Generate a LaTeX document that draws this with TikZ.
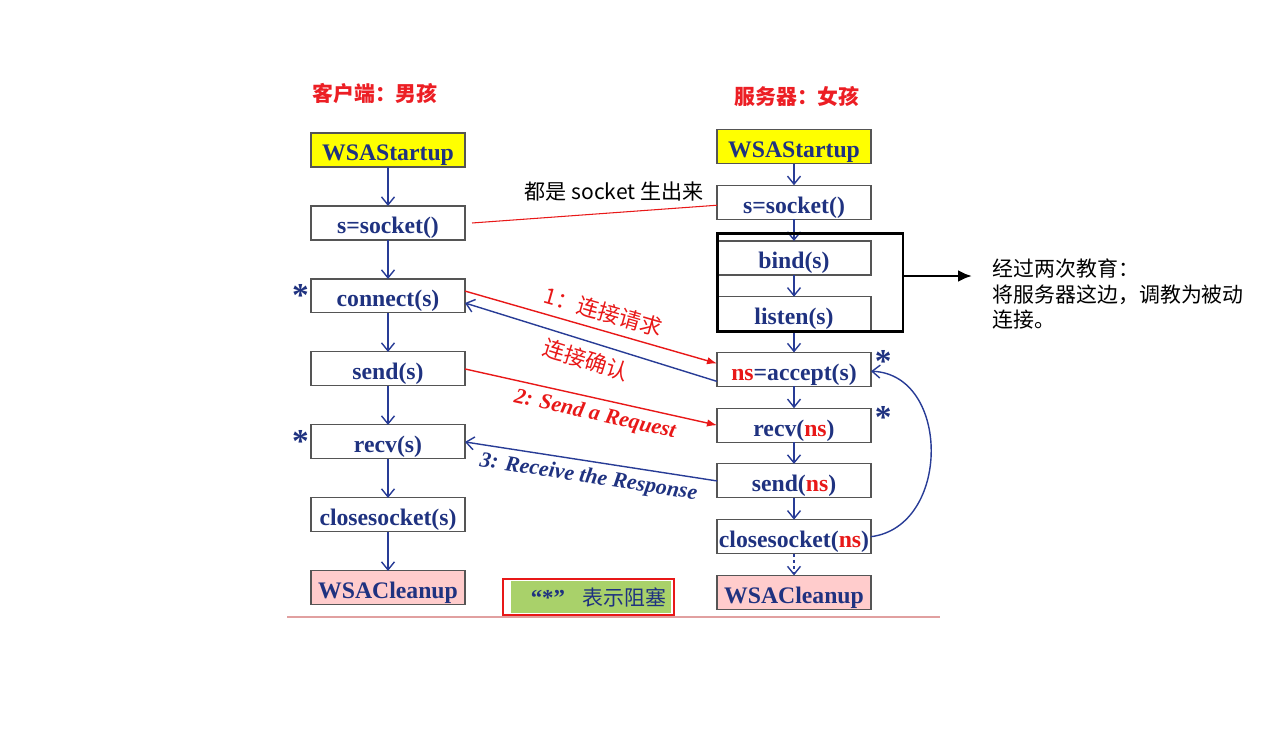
\documentclass[tikz,border=0pt]{standalone}
\usepackage{fontspec}
\setmainfont{Liberation Serif}
\newfontfamily\cjk{Noto Sans CJK SC}
\usetikzlibrary{arrows.meta,positioning,fit}

\definecolor{callblue}{RGB}{31,50,128}
\definecolor{flowblue}{RGB}{40,60,150}
\definecolor{reqred}{RGB}{232,24,24}
\definecolor{headred}{RGB}{236,30,36}
\definecolor{boxline}{RGB}{85,85,85}
\definecolor{startyellow}{RGB}{255,255,0}
\definecolor{cleanpink}{RGB}{255,204,204}
\definecolor{legendgreen}{RGB}{169,209,106}
\definecolor{rulepink}{RGB}{225,160,160}

\tikzset{
  callbox/.style={draw=boxline, line width=0.6pt, fill=white, minimum width=3.08cm, minimum height=0.68cm, inner sep=0pt, outer sep=0pt, text height=12.3pt, text depth=0pt, text=callblue, font=\fontsize{13.5}{15}\selectfont\bfseries},
  startbox/.style={callbox, fill=startyellow},
  cleanbox/.style={callbox, fill=cleanpink},
  flow/.style={-{Straight Barb[length=1.6mm,width=2.6mm]}, flowblue, line width=0.8pt},
  reqarrow/.style={-{Latex[length=2mm,width=1.5mm]}, reqred, line width=0.8pt},
  blockmark/.style={text=callblue, inner sep=1pt, font=\fontsize{19}{19}\selectfont\bfseries},
  headtext/.style={text=headred, font=\fontsize{11.9}{14}\selectfont\cjk\bfseries},
  msgtext/.style={text=reqred, font=\fontsize{12.5}{14}\selectfont\cjk},
  msgen/.style={font=\fontsize{12.5}{14}\selectfont\bfseries\itshape},
}

\newcommand{\ns}{\textcolor{reqred}{ns}}

\begin{document}
\begin{tikzpicture}[x=0.02cm, y=-0.02cm]
\useasboundingbox (0,0) rectangle (1274,744);

% client column
\node[startbox] (cStart) at (388,150) {WSAStartup};
\node[callbox, below=0.78cm of cStart] (cSock) {s=socket()};
\node[callbox, below=0.78cm of cSock] (cConn) {connect(s)};
\node[callbox, below=0.78cm of cConn] (cSend) {send(s)};
\node[callbox, below=0.78cm of cSend] (cRecv) {recv(s)};
\node[callbox, below=0.78cm of cRecv] (cClose) {closesocket(s)};
\node[cleanbox, below=0.78cm of cClose] (cClean) {WSACleanup};

% server column
\node[startbox] (sStart) at (794,146.5) {WSAStartup};
\node[callbox, below=0.435cm of sStart] (sSock) {s=socket()};
\node[callbox, below=0.435cm of sSock] (sBind) {bind(s)};
\node[callbox, below=0.435cm of sBind] (sListen) {listen(s)};
\node[callbox, below=0.435cm of sListen] (sAccept) {\ns=accept(s)};
\node[callbox, below=0.435cm of sAccept] (sRecv) {recv(\ns)};
\node[callbox, below=0.435cm of sRecv] (sSend) {send(\ns)};
\node[callbox, below=0.435cm of sSend] (sClose) {closesocket(\ns)};
\node[cleanbox, below=0.435cm of sClose] (sClean) {WSACleanup};

\node[headtext] (cHead) at (375,94) {客户端：男孩};
\node[headtext] (sHead) at (797,96) {服务器：女孩};

\foreach \a/\b in {cStart/cSock,cSock/cConn,cConn/cSend,cSend/cRecv,cRecv/cClose,cClose/cClean,
  sStart/sSock,sSock/sBind,sBind/sListen,sListen/sAccept,sAccept/sRecv,sRecv/sSend,sSend/sClose}
  \draw[flow] (\a) -- (\b);
\draw[flow, dash pattern=on 2pt off 1.5pt] (sClose) -- (sClean);

% blocking calls
\node[blockmark, left=0pt of cConn] (cConnMark) {*};
\node[blockmark, left=0pt of cRecv] (cRecvMark) {*};
\node[blockmark, right=1pt of sAccept.east, yshift=4.5pt] (sAcceptMark) {*};
\node[blockmark, right=1pt of sRecv.east, yshift=4.5pt] (sRecvMark) {*};

% both sockets
\draw[reqred, line width=0.6pt] ([xshift=4pt]cSock.east) -- node[pos=0.58, above=3pt, text=black, font=\fontsize{12}{14}\selectfont\cjk] {都是 socket 生出来} ([yshift=-1.7pt]sSock.west);

% messages
\draw[reqarrow] ([yshift=2.8pt]cConn.east) -- node[msgtext, sloped, above=1pt, pos=0.53] {1：连接请求} ([yshift=3.4pt]sAccept.west);
\draw[flow] ([yshift=-6.8pt]sAccept.west) -- node[msgtext, sloped, below=1pt, pos=0.5] {连接确认} ([yshift=-4pt]cConn.east);
\draw[reqarrow] (cSend.east) -- node[msgen, text=reqred, sloped, below, pos=0.53] {2: Send a Request} (sRecv.west);
\draw[flow] (sSend.west) -- node[msgen, text=callblue, sloped, below, pos=0.5] {3: Receive the Response} (cRecv.east);

% loop back to accept
\draw[flow] (sClose.east) .. controls ([shift={(80,-10)}]sClose.east) and ([shift={(80,5)}]sAccept.east) .. ([yshift=-1pt]sAccept.east);

% bind + listen
\coordinate (eduA) at ([shift={(0,-7)}]sBind.north west);
\coordinate (eduB) at ([shift={(32,1)}]sListen.south east);
\node[draw, line width=1.7pt, inner sep=0pt, fit=(eduA)(eduB)] (edu) {};
\node[anchor=west, align=left, inner sep=2pt, font=\fontsize{11.9}{14.7}\selectfont\cjk] (note) at (989,294) {经过两次教育：\\将服务器这边，调教为被动\\连接。};
\coordinate (noteTip) at (972,276);
\draw[-{Latex[length=2.8mm,width=2.4mm]}, line width=1.6pt] (edu.east |- noteTip) -- (noteTip);

\draw[rulepink, line width=0.6pt] (287,617) -- (940,617);

% legend
\node[draw=reqred, line width=1.4pt, minimum width=3.42cm, minimum height=0.72cm, inner sep=0pt, text=callblue,
  path picture={\fill[legendgreen] ([shift={(8,2)}]path picture bounding box.north west) rectangle ([shift={(-3,-2)}]path picture bounding box.south east);}]
  (legend) at (588.5,597) {\hspace{0.4cm}{\fontsize{13}{14}\selectfont\bfseries “*”}\hspace{0.35cm}{\fontsize{11.9}{14}\selectfont\cjk 表示阻塞}};
\end{tikzpicture}
\end{document}
